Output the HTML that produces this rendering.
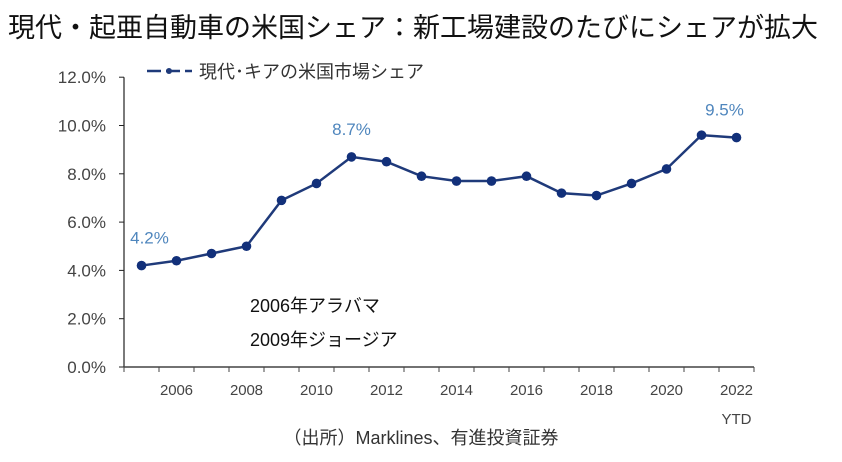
<!DOCTYPE html>
<html><head><meta charset="utf-8"><style>
body{margin:0;background:#fff;width:842px;height:457px;overflow:hidden;font-family:"Liberation Sans","Noto Sans CJK JP",sans-serif}
svg text{font-family:"Liberation Sans","Noto Sans CJK JP",sans-serif}
</style></head><body>
<svg width="842" height="457">
<text x="8" y="37" font-size="27" fill="#111">現代・起亜自動車の米国シェア：新工場建設のたびにシェアが拡大</text>
<g id="axes"></g>
<g id="series"></g>
<g>
<line x1="147" y1="71" x2="192" y2="71" stroke="#1f3a7a" stroke-width="2.5" stroke-dasharray="14,5"/>
<circle cx="169" cy="71" r="3" fill="#1f3a7a"/>
<text x="199" y="78" font-size="18" fill="#333">現代･キアの米国市場シェア</text>
</g>
<text x="250" y="312" font-size="18" fill="#111">2006年アラバマ</text>
<text x="250" y="346" font-size="18" fill="#111">2009年ジョージア</text>
<text x="421" y="444" font-size="18" fill="#333" text-anchor="middle">（出所）Marklines、有進投資証券</text>
</svg>
<script>
const years=[2005,2006,2007,2008,2009,2010,2011,2012,2013,2014,2015,2016,2017,2018,2019,2020,2021,2022];
const shares=[4.2,4.4,4.7,5.0,6.9,7.6,8.7,8.5,7.9,7.7,7.7,7.9,7.2,7.1,7.6,8.2,9.6,9.5];
const yTicks=[0,2,4,6,8,10,12];
const xLabels=["2006","2008","2010","2012","2014","2016","2018","2020","2022"];
const callouts=[[0,"4.2%"],[6,"8.7%"],[17,"9.5%"]];
const NS="http://www.w3.org/2000/svg";
const x0=124,bw=35,y0=367,ppu=24.15;
const X=i=>x0+bw*(i+0.5), Y=v=>y0-v*ppu;
function mk(t,a,p){const e=document.createElementNS(NS,t);for(const k in a)e.setAttribute(k,a[k]);p.appendChild(e);return e;}
const ax=document.getElementById('axes'),se=document.getElementById('series');
let e=mk('line',{x1:x0,y1:Y(12),x2:x0,y2:y0,stroke:'#222','stroke-width':1.2},ax);


e=mk('line',{x1:x0,y1:y0,x2:x0+bw*years.length,y2:y0,stroke:'#444','stroke-width':1.5},ax);


yTicks.forEach(v=>{
mk('line',{x1:x0-5,y1:Y(v),x2:x0,y2:Y(v),stroke:'#222'},ax);
const t=mk('text',{x:x0-18,y:Y(v)+6,'font-size':17,fill:'#444','text-anchor':'end'},ax);
t.textContent=v.toFixed(1)+'%';


});
for(let i=0;i<=years.length;i++)mk('line',{x1:x0+bw*i,y1:y0,x2:x0+bw*i,y2:y0+5,stroke:'#444'},ax);
xLabels.forEach(l=>{
const i=years.indexOf(+l);
const t=mk('text',{x:X(i),y:y0+28,'font-size':15,fill:'#444','text-anchor':'middle','textLength':33},ax);
t.textContent=l;


});
const ytd=mk('text',{x:X(17),y:y0+57,'font-size':15,fill:'#444','text-anchor':'middle'},ax);
ytd.textContent='YTD';


const line=mk('polyline',{points:shares.map((v,i)=>X(i)+','+Y(v)).join(' '),fill:'none',stroke:'#1f3a7a','stroke-width':2.5},se);


shares.forEach((v,i)=>{
const c=mk('circle',{cx:X(i),cy:Y(v),r:4.8,fill:'#12307a'},se);


});
callouts.forEach(([i,l])=>{
const dx=i==0?8:(i==17?-12:0);
const t=mk('text',{x:X(i)+dx,y:Y(shares[i])-22,'font-size':17,fill:'#4f86bd','text-anchor':'middle'},se);
t.textContent=l;


});
</script>
</body></html>
